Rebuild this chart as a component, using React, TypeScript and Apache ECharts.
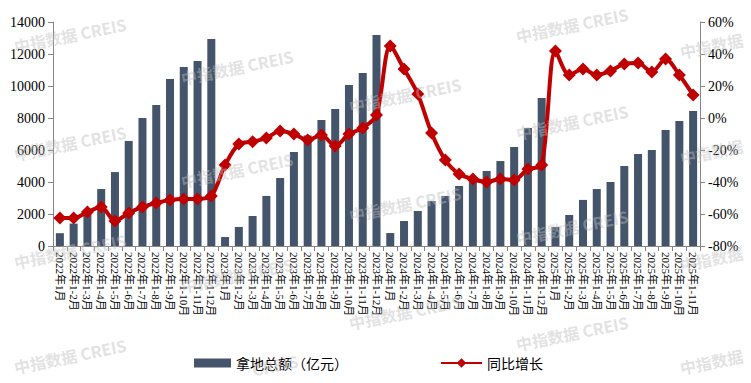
import React, { useEffect, useRef } from "react";
import * as echarts from "echarts";

const years = ["2022", "2023", "2024", "2025"];
const monthsPerYear = [12, 12, 12, 11];
const categories: string[] = [];
years.forEach((y, i) => {
  for (let m = 1; m <= monthsPerYear[i]; m++) {
    categories.push(m === 1 ? `${y}年1月` : `${y}年1-${m}月`);
  }
});

const landAmount = [
  800, 1400, 2050, 3560, 4620, 6560, 8000, 8810, 10440, 11190, 11560, 12940,
  560, 1190, 1880, 3130, 4250, 5880, 6900, 7880, 8560, 10060, 10810, 13190,
  810, 1560, 2190, 2810, 3130, 3750, 4120, 4690, 5310, 6190, 7380, 9250,
  1190, 1940, 2880, 3560, 4000, 5000, 5750, 6000, 7250, 7810, 8440,
];

const yoyGrowth = [
  -62.5, -62.5, -58.8, -55.6, -64.4, -59.4, -55.6, -53.1, -51.3, -50.6, -50.6, -48.8,
  -29.4, -16.3, -14.8, -12.5, -8.1, -10.0, -13.8, -10.6, -17.5, -10.0, -6.3, 1.9,
  45.0, 30.6, 15.0, -9.4, -26.3, -35.0, -38.1, -40.0, -38.1, -38.8, -31.9, -29.4,
  41.9, 26.9, 30.6, 26.9, 29.4, 33.8, 34.4, 28.8, 36.9, 26.9, 14.4,
];

const leftTicks = { min: 0, max: 14000, interval: 2000 };
const rightTicks = { min: -80, max: 60, interval: 20 };

// watermark pieces: [text, x, y, align]
const watermarkSpots: [string, number, number, "center" | "left"][] = [
  ["中指数据 CREIS", 70, 35, "center"],
  ["中指数据 CREIS", 70, 143, "center"],
  ["中指数据 CREIS", 70, 251, "center"],
  ["中指数据 CREIS", 70, 356, "center"],
  ["中指数据 CREIS", 237, 67, "center"],
  ["中指数据 CREIS", 237, 170, "center"],
  ["中指数据 CREIS", 237, 275, "center"],
  ["CREIS", 275, 365, "center"],
  ["中指数据 CREIS", 405, 95, "center"],
  ["中指数据 CREIS", 405, 204, "center"],
  ["中指数据 CREIS", 405, 312, "center"],
  ["中指数据 CREIS", 572, 25, "center"],
  ["中指数据 CREIS", 572, 122, "center"],
  ["中指数据 CREIS", 572, 227, "center"],
  ["中指数据 CREIS", 572, 333, "center"],
  ["中指数据", 680, 52, "left"],
  ["中指数据", 680, 158, "left"],
  ["中指数据", 680, 265, "left"],
  ["中指数据", 680, 368, "left"],
];

const serif = "'Liberation Serif', 'Noto Sans CJK SC', serif";
const cjk = "'Noto Sans CJK SC', sans-serif";

export default function App() {
  const ref = useRef<HTMLDivElement>(null);
  useEffect(() => {
    if (!ref.current) return;
    const chart = echarts.init(ref.current, undefined, { renderer: "svg" });
    chart.setOption({
      animation: false,
      backgroundColor: "#ffffff",
      grid: { left: 53, right: 51, top: 22, bottom: 137, containLabel: false },
      legend: [
        {
          data: [{ name: "拿地总额（亿元）", icon: "rect" }],
          left: 189,
          top: 351,
          itemWidth: 37,
          itemHeight: 9,
          itemGap: 5,
          textStyle: { fontSize: 14, color: "#000", fontFamily: cjk },
        },
        {
          data: ["同比增长"],
          left: 435,
          top: 351,
          itemWidth: 41,
          itemHeight: 12,
          textStyle: { fontSize: 14, color: "#000", fontFamily: cjk },
        },
      ],
      xAxis: {
        type: "category",
        data: categories,
        axisLine: { lineStyle: { color: "#868686", width: 1 } },
        axisTick: { show: true, length: 5, lineStyle: { color: "#868686" } },
        axisLabel: {
          rotate: -90,
          interval: 0,
          fontSize: 11,
          color: "#000",
          margin: 6,
          fontFamily: serif,
        },
      },
      yAxis: [
        {
          type: "value",
          ...leftTicks,
          axisLine: { show: true, lineStyle: { color: "#868686" } },
          axisTick: { show: true, length: 5, lineStyle: { color: "#868686" } },
          splitLine: { show: false },
          axisLabel: {
            fontSize: 14,
            color: "#000",
            fontFamily: serif,
            margin: 8,
            formatter: (v: number) => String(v),
          },
        },
        {
          type: "value",
          ...rightTicks,
          position: "right",
          axisLine: { show: true, lineStyle: { color: "#868686" } },
          axisTick: { show: true, length: 5, lineStyle: { color: "#868686" } },
          splitLine: { show: false },
          axisLabel: {
            fontSize: 14,
            color: "#000",
            fontFamily: serif,
            margin: 8,
            formatter: "{value}%",
          },
        },
      ],
      series: [
        {
          name: "拿地总额（亿元）",
          type: "bar",
          data: landAmount,
          barWidth: 8,
          itemStyle: { color: "#44546A" },
        },
        {
          name: "同比增长",
          type: "line",
          yAxisIndex: 1,
          data: yoyGrowth,
          smooth: 0.3,
          symbol: "diamond",
          symbolSize: 13,
          lineStyle: { width: 4, color: "#C00000" },
          itemStyle: { color: "#C00000" },
        },
      ],
      graphic: watermarkSpots.map(([text, x, y, align]) => ({
        type: "text",
        x,
        y,
        rotation: 0.2,
        z: 100,
        silent: true,
        style: {
          text,
          align,
          verticalAlign: "middle",
          font: `bold 16px ${cjk}`,
          fill: "rgba(190,190,190,0.45)",
        },
      })),
    });
    return () => chart.dispose();
  }, []);
  return (
    <div
      ref={ref}
      style={{ position: "absolute", left: 0, top: 0, width: 751, height: 383 }}
    />
  );
}
